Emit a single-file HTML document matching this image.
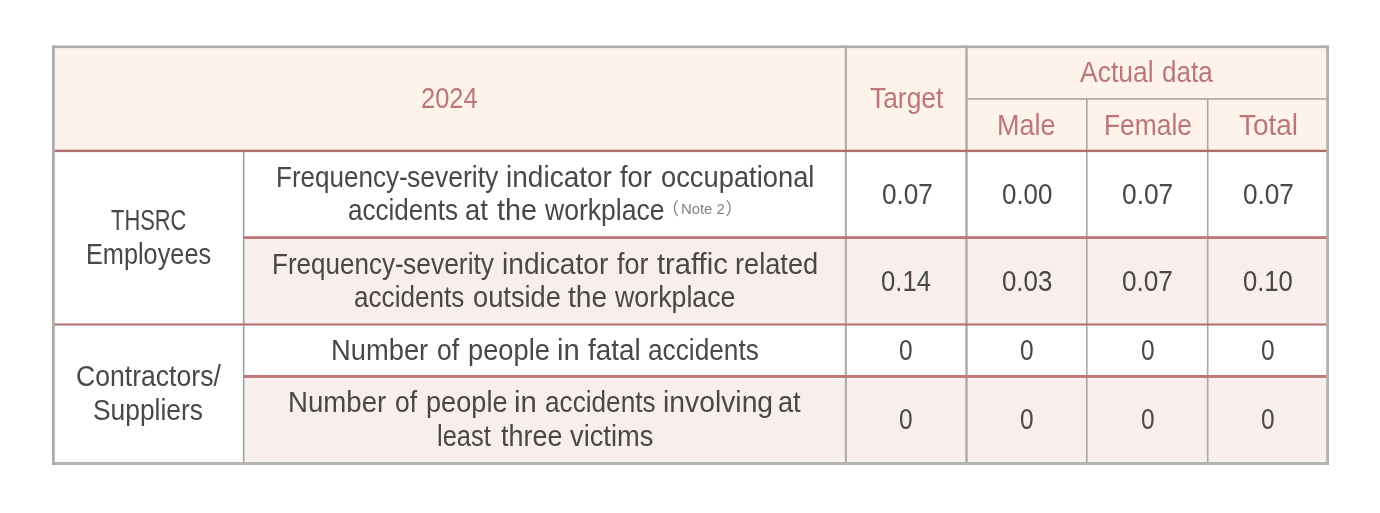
<!DOCTYPE html>
<html lang="en">
<head>
<meta charset="utf-8">
<title>Occupational safety indicators 2024</title>
<style>
html,body{margin:0;padding:0;background:#fff;}
#tbl{position:relative;width:1380px;height:513px;overflow:hidden;background:#fff;font-family:'Liberation Sans', sans-serif;}
#tbl span{position:absolute;display:block;white-space:pre;line-height:1;transform-origin:0 0;}
.r{color:#bb767b;} .d{color:#484848;} .n{color:#808080;}
</style>
</head>
<body>
<div id="tbl">
<svg width="1380" height="513" viewBox="0 0 1380 513" style="position:absolute;left:0;top:0" shape-rendering="geometricPrecision">
<rect x="52.00" y="45.50" width="1277.00" height="105.50" fill="#fef3ea"/>
<rect x="243.70" y="237.50" width="1085.30" height="87.00" fill="#f8eeec"/>
<rect x="243.70" y="376.50" width="1085.30" height="88.50" fill="#f8eeec"/>
<rect x="242.80" y="151.00" width="1.70" height="314.00" fill="#a4a4a4"/>
<rect x="844.80" y="45.50" width="2.20" height="419.50" fill="#b0b0b0"/>
<rect x="965.20" y="45.50" width="2.60" height="419.50" fill="#b0b0b0"/>
<rect x="1086.00" y="98.80" width="1.60" height="366.20" fill="#a8a8a8"/>
<rect x="1206.90" y="98.80" width="1.60" height="366.20" fill="#a8a8a8"/>
<rect x="966.50" y="98.00" width="362.50" height="1.80" fill="#b0b0b0"/>
<rect x="52.00" y="149.70" width="1277.00" height="2.40" fill="#b06e6e"/>
<rect x="243.70" y="236.20" width="1085.30" height="2.80" fill="#be7676"/>
<rect x="52.00" y="323.50" width="1277.00" height="2.00" fill="#b46c6c"/>
<rect x="243.70" y="375.00" width="1085.30" height="2.90" fill="#be7676"/>
<rect x="52.00" y="45.50" width="1277.00" height="2.60" fill="#adadad"/>
<rect x="52.00" y="462.00" width="1277.00" height="3.00" fill="#b4b4b4"/>
<rect x="52.00" y="45.50" width="2.80" height="419.50" fill="#adadad"/>
<rect x="1326.20" y="45.50" width="2.80" height="419.50" fill="#b0b0b0"/>
</svg>
<div class="thead">
<span class="r" style="left:421.10px;top:84.00px;font-size:29px;transform:scaleX(0.8768)">2024</span>
<span class="r" style="left:869.54px;top:84.00px;font-size:29px;transform:scaleX(0.9100)">Target</span>
<span class="r" style="left:1079.97px;top:58.00px;font-size:29px;transform:scaleX(0.9146)">Actual </span>
<span class="r" style="left:1161.88px;top:58.00px;font-size:29px;transform:scaleX(0.8977)">data</span>
<span class="r" style="left:997.41px;top:111.00px;font-size:29px;transform:scaleX(0.9311)">Male</span>
<span class="r" style="left:1103.55px;top:111.00px;font-size:29px;transform:scaleX(0.9094)">Female</span>
<span class="r" style="left:1238.72px;top:111.00px;font-size:29px;transform:scaleX(0.9627)">Total</span>
</div>
<div class="row r1">
<span class="d" style="left:111.42px;top:206.00px;font-size:29px;transform:scaleX(0.7552)">THSRC </span>
<span class="d" style="left:85.74px;top:240.00px;font-size:29px;transform:scaleX(0.8720)">Employees</span>
<span class="d" style="left:275.68px;top:163.00px;font-size:29px;transform:scaleX(0.8970)">Frequency-</span>
<span class="d" style="left:406.79px;top:163.00px;font-size:29px;transform:scaleX(0.9144)">severity </span>
<span class="d" style="left:505.81px;top:163.00px;font-size:29px;transform:scaleX(0.9665)">indicator </span>
<span class="d" style="left:620.36px;top:163.00px;font-size:29px;transform:scaleX(0.9444)">for </span>
<span class="d" style="left:661.32px;top:163.00px;font-size:29px;transform:scaleX(0.9421)">occupational </span>
<span class="d" style="left:348.48px;top:196.00px;font-size:29px;transform:scaleX(0.8990)">accidents </span>
<span class="d" style="left:465.32px;top:196.00px;font-size:29px;transform:scaleX(0.9451)">at </span>
<span class="d" style="left:496.75px;top:196.00px;font-size:29px;transform:scaleX(0.9910)">the </span>
<span class="d" style="left:544.80px;top:196.00px;font-size:29px;transform:scaleX(0.9161)">workplace </span>
<span class="n" style="left:662px;top:201px;font-size:17px;font-family:'Liberation Sans','Noto Sans CJK TC',sans-serif">（</span>
<span class="n" style="left:680.79px;top:201.00px;font-size:15.4px;transform:scaleX(0.9655)">Note 2</span>
<span class="n" style="left:725.5px;top:201px;font-size:17px;font-family:'Liberation Sans','Noto Sans CJK TC',sans-serif">）</span>
<span class="d" style="left:881.70px;top:180.00px;font-size:29px;transform:scaleX(0.9019)">0.07</span>
<span class="d" style="left:1001.71px;top:180.00px;font-size:29px;transform:scaleX(0.8936)">0.00</span>
<span class="d" style="left:1122.09px;top:180.00px;font-size:29px;transform:scaleX(0.9074)">0.07</span>
<span class="d" style="left:1243.00px;top:180.00px;font-size:29px;transform:scaleX(0.9019)">0.07</span>
</div>
<div class="row r2">
<span class="d" style="left:271.98px;top:250.00px;font-size:29px;transform:scaleX(0.8977)">Frequency-</span>
<span class="d" style="left:403.09px;top:250.00px;font-size:29px;transform:scaleX(0.9114)">severity </span>
<span class="d" style="left:501.80px;top:250.00px;font-size:29px;transform:scaleX(0.9702)">indicator </span>
<span class="d" style="left:616.97px;top:250.00px;font-size:29px;transform:scaleX(0.9263)">for </span>
<span class="d" style="left:657.15px;top:250.00px;font-size:29px;transform:scaleX(1.0051)">traffic </span>
<span class="d" style="left:735.16px;top:250.00px;font-size:29px;transform:scaleX(0.9376)">related </span>
<span class="d" style="left:354.37px;top:283.00px;font-size:29px;transform:scaleX(0.9006)">accidents </span>
<span class="d" style="left:473.33px;top:283.00px;font-size:29px;transform:scaleX(0.9396)">outside </span>
<span class="d" style="left:567.76px;top:283.00px;font-size:29px;transform:scaleX(0.9729)">the </span>
<span class="d" style="left:615.00px;top:283.00px;font-size:29px;transform:scaleX(0.9230)">workplace</span>
<span class="d" style="left:881.22px;top:267.00px;font-size:29px;transform:scaleX(0.8840)">0.14</span>
<span class="d" style="left:1001.51px;top:267.00px;font-size:29px;transform:scaleX(0.8903)">0.03</span>
<span class="d" style="left:1122.00px;top:267.00px;font-size:29px;transform:scaleX(0.9019)">0.07</span>
<span class="d" style="left:1242.92px;top:267.00px;font-size:29px;transform:scaleX(0.8826)">0.10</span>
</div>
<div class="row r3">
<span class="d" style="left:75.82px;top:362.00px;font-size:29px;transform:scaleX(0.9171)">Contractors/</span>
<span class="d" style="left:93.34px;top:396.00px;font-size:29px;transform:scaleX(0.9097)">Suppliers</span>
<span class="d" style="left:331.18px;top:336.00px;font-size:29px;transform:scaleX(0.9423)">Number </span>
<span class="d" style="left:436.96px;top:336.00px;font-size:29px;transform:scaleX(0.9130)">of </span>
<span class="d" style="left:468.45px;top:336.00px;font-size:29px;transform:scaleX(0.9405)">people </span>
<span class="d" style="left:557.24px;top:336.00px;font-size:29px;transform:scaleX(1.0053)">in </span>
<span class="d" style="left:588.46px;top:336.00px;font-size:29px;transform:scaleX(0.9611)">fatal </span>
<span class="d" style="left:647.97px;top:336.00px;font-size:29px;transform:scaleX(0.9048)">accidents</span>
<span class="d" style="left:899.36px;top:336.00px;font-size:29px;transform:scaleX(0.8429)">0</span>
<span class="d" style="left:1020.26px;top:336.00px;font-size:29px;transform:scaleX(0.8429)">0</span>
<span class="d" style="left:1140.76px;top:336.00px;font-size:29px;transform:scaleX(0.8429)">0</span>
<span class="d" style="left:1261.26px;top:336.00px;font-size:29px;transform:scaleX(0.8429)">0</span>
</div>
<div class="row r4">
<span class="d" style="left:287.96px;top:388.00px;font-size:29px;transform:scaleX(0.9522)">Number </span>
<span class="d" style="left:394.86px;top:388.00px;font-size:29px;transform:scaleX(0.9130)">of </span>
<span class="d" style="left:426.36px;top:388.00px;font-size:29px;transform:scaleX(0.9369)">people </span>
<span class="d" style="left:514.23px;top:388.00px;font-size:29px;transform:scaleX(1.0105)">in </span>
<span class="d" style="left:544.97px;top:388.00px;font-size:29px;transform:scaleX(0.9023)">accidents </span>
<span class="d" style="left:662.59px;top:388.00px;font-size:29px;transform:scaleX(0.9757)">involving </span>
<span class="d" style="left:777.63px;top:388.00px;font-size:29px;transform:scaleX(0.9363)">at </span>
<span class="d" style="left:437.36px;top:422.00px;font-size:29px;transform:scaleX(0.8793)">least </span>
<span class="d" style="left:500.97px;top:422.00px;font-size:29px;transform:scaleX(0.9282)">three </span>
<span class="d" style="left:569.76px;top:422.00px;font-size:29px;transform:scaleX(0.9406)">victims</span>
<span class="d" style="left:899.36px;top:405.00px;font-size:29px;transform:scaleX(0.8429)">0</span>
<span class="d" style="left:1020.26px;top:405.00px;font-size:29px;transform:scaleX(0.8429)">0</span>
<span class="d" style="left:1140.76px;top:405.00px;font-size:29px;transform:scaleX(0.8429)">0</span>
<span class="d" style="left:1261.26px;top:405.00px;font-size:29px;transform:scaleX(0.8429)">0</span>
</div>
</div>
</body>
</html>
